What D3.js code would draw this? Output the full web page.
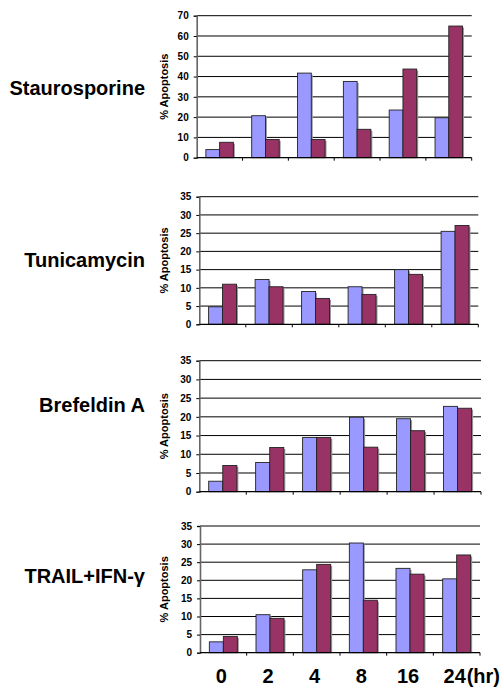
<!doctype html>
<html lang="en">
  <head>
    <meta charset="utf-8">
    <title>% Apoptosis time course</title>
    <script src="https://d3js.org/d3.v7.min.js"></script>
    <style>
      body { margin: 0; background: #fff; }
      svg { display: block; font-family: "Liberation Sans", Arial, sans-serif; }
    </style>
  </head>
  <body>
    <div id="chart"></div>
    <script>

      // data
      const times = ["0", "2", "4", "8", "16", "24"];
      const titles = ["Staurosporine", "Tunicamycin", "Brefeldin A", "TRAIL+IFN-\u03b3"];
      const yMax = [70, 35, 35, 35];
      const yStep = [10, 5, 5, 5];

      const stauroBlue = [4.0, 20.7, 41.7, 37.6, 23.5, 19.7];
      const stauroRed  = [7.6, 9.0, 9.0, 14.0, 43.7, 64.9];
      const tunicaBlue = [4.8, 12.3, 9.0, 10.3, 15.0, 25.5];
      const tunicaRed  = [11.0, 10.3, 7.1, 8.2, 13.7, 27.1];
      const brefBlue   = [2.8, 7.8, 14.5, 19.9, 19.5, 22.8];
      const brefRed    = [7.0, 11.8, 14.5, 11.9, 16.3, 22.3];
      const trailBlue  = [3.0, 10.5, 22.9, 30.3, 23.3, 20.4];
      const trailRed   = [4.5, 9.5, 24.4, 14.5, 21.7, 27.0];

      const blueSeries = [stauroBlue, tunicaBlue, brefBlue, trailBlue];
      const redSeries = [stauroRed, tunicaRed, brefRed, trailRed];

      // panel boxes (left, right, top, bottom) and title baselines
      const boxes = [
        {l: 196.7, r: 471.7, t: 15.7, b: 157.7, ty: 95},
        {l: 199.3, r: 478.3, t: 196.7, b: 324.3, ty: 266.7},
        {l: 199.3, r: 481, t: 360.7, b: 491.7, ty: 411.7},
        {l: 200, r: 480, t: 526, b: 652.7, ty: 583}
      ];

      const blue = "#9999ff", red = "#993366";

      const svg = d3.select("#chart")
        .append("svg")
          .attr("width", 501)
          .attr("height", 687);

      boxes.forEach(function(box, p) {
        const g = svg.append("g");

        const x = d3.scaleBand()
          .domain(times)
          .range([box.l, box.r]);

        const y = d3.scaleLinear()
          .domain([0, yMax[p]])
          .range([box.b, box.t]);

        const ticks = d3.range(0, yMax[p] + 0.001, yStep[p]);

        // gridlines
        g.selectAll("line.grid")
          .data(ticks.slice(1))
          .enter()
          .append("line")
            .attr("x1", box.l)
            .attr("x2", box.r)
            .attr("y1", d => y(d))
            .attr("y2", d => y(d))
            .attr("stroke", "#000")
            .attr("stroke-width", 1);

        // bars
        const bw = x.bandwidth() * 0.3;
        const groups = [blueSeries[p], redSeries[p]];
        groups.forEach(function(vals, s) {
          const bx = i => x(times[i]) + x.bandwidth() / 2 - bw + s * bw;
          // shadow
          g.selectAll(null)
            .data(vals)
            .enter()
            .append("rect")
              .attr("x", (d, i) => bx(i) + 1.5)
              .attr("y", d => y(d) + 1.5)
              .attr("width", bw)
              .attr("height", d => Math.max(0, box.b - y(d) - 1.5))
              .attr("fill", "#9a9a9a");
          g.selectAll(null)
            .data(vals)
            .enter()
            .append("rect")
              .attr("x", (d, i) => bx(i))
              .attr("y", d => y(d))
              .attr("width", bw)
              .attr("height", d => box.b - y(d))
              .attr("fill", s === 0 ? blue : red)
              .attr("stroke", "#222")
              .attr("stroke-width", 0.9);
        });

        // y axis
        const yAxis = g.append("g")
          .attr("transform", `translate(${box.l},0)`)
          .call(d3.axisLeft(y).tickValues(ticks).tickSize(3).tickPadding(5));
        yAxis.select(".domain").attr("stroke", "#666").attr("stroke-width", 1.6);
        yAxis.selectAll("text")
          .attr("font-size", "10px")
          .attr("font-weight", "bold")
          .attr("fill", "#000")
          .style("font-family", "'Liberation Sans', Arial, sans-serif");

        // x axis with ticks at category boundaries
        g.append("line")
          .attr("x1", box.l)
          .attr("x2", box.r)
          .attr("y1", box.b)
          .attr("y2", box.b)
          .attr("stroke", "#000")
          .attr("stroke-width", 1.2);
        g.selectAll(null)
          .data(times.slice(1).concat(["end"]))
          .enter()
          .append("line")
            .attr("x1", d => d === "end" ? box.r : x(d))
            .attr("x2", d => d === "end" ? box.r : x(d))
            .attr("y1", box.b)
            .attr("y2", box.b + 3)
            .attr("stroke", "#000");

        // y label
        g.append("text")
          .attr("transform", `translate(168,${(box.t + box.b) / 2}) rotate(-90)`)
          .attr("text-anchor", "middle")
          .attr("font-size", "11px")
          .attr("font-weight", "bold")
          .text("% Apoptosis");

        // panel title
        g.append("text")
          .attr("x", 145)
          .attr("y", box.ty)
          .attr("text-anchor", "end")
          .attr("font-size", "20px")
          .attr("font-weight", "bold")
          .text(titles[p]);

        // time labels under the last panel
        if (p === boxes.length - 1) {
          const lab = g.selectAll(null)
            .data(times)
            .enter()
            .append("text")
              .attr("x", d => x(d) + x.bandwidth() / 2 - 2)
              .attr("y", 683)
              .attr("text-anchor", "middle")
              .attr("font-size", "20px")
              .attr("font-weight", "bold")
              .text(d => d);
          const last = lab.filter((d, i) => i === times.length - 1).node();
          const bb = last.getBBox();
          g.append("text")
            .attr("x", bb.x + bb.width)
            .attr("y", 683)
            .attr("font-size", "20px")
            .attr("font-weight", "bold")
            .text("(hr)");
        }
      });

    </script>
  </body>
</html>
